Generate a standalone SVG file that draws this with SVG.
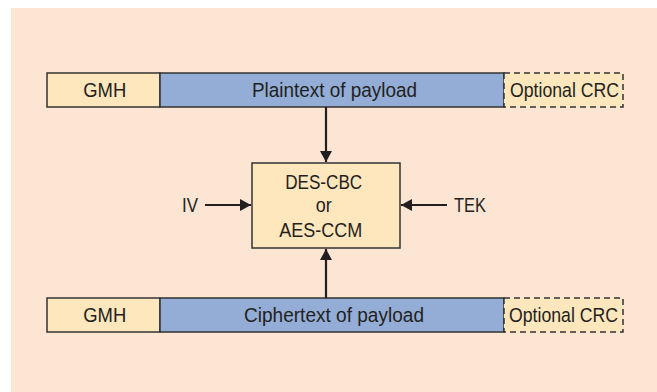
<svg xmlns="http://www.w3.org/2000/svg" width="657" height="392" viewBox="0 0 657 392">
<style>
.t{font-family:"Liberation Sans",Arial,sans-serif;font-size:20.5px;fill:#231f20;text-anchor:middle}
.cream{fill:#fee6bd;stroke:#333;stroke-width:1.5}
.blue{fill:#93add6;stroke:#333;stroke-width:1.5}
.dash{fill:#fee6bd;stroke:#333;stroke-width:1.5;stroke-dasharray:6 4}
.ln{stroke:#231f20;stroke-width:2.2;fill:none}
</style>
<defs>
<marker id="ah" viewBox="0 0 11 12" refX="11" refY="6" markerWidth="11" markerHeight="12" markerUnits="userSpaceOnUse" orient="auto">
<path d="M0,0 L11,6 L0,12 z" fill="#231f20"/>
</marker>
</defs>
<rect x="11" y="8" width="646" height="384" fill="#fce5d3"/>
<g id="top-bar">
<rect class="cream" x="47" y="73" width="113" height="34"/>
<text class="t" x="104.7" y="97" textLength="43" lengthAdjust="spacingAndGlyphs">GMH</text>
<rect class="blue" x="160" y="73" width="344" height="34"/>
<text class="t" x="334.5" y="97" textLength="165" lengthAdjust="spacingAndGlyphs">Plaintext of payload</text>
<rect class="dash" x="504" y="73" width="119" height="34"/>
<text class="t" x="564.5" y="97" textLength="109" lengthAdjust="spacingAndGlyphs">Optional CRC</text>
</g>
<g id="cipher-box">
<rect class="cream" x="252" y="163" width="148" height="85"/>
<text class="t" x="323.7" y="189" textLength="77" lengthAdjust="spacingAndGlyphs">DES-CBC</text>
<text class="t" x="323.7" y="212" textLength="16" lengthAdjust="spacingAndGlyphs">or</text>
<text class="t" x="320.8" y="236.5" textLength="83" lengthAdjust="spacingAndGlyphs">AES-CCM</text>
</g>
<g id="iv"><text class="t" x="190" y="212" textLength="16" lengthAdjust="spacingAndGlyphs">IV</text></g>
<g id="tek"><text class="t" x="470" y="212" textLength="32" lengthAdjust="spacingAndGlyphs">TEK</text></g>
<g id="bottom-bar">
<rect class="cream" x="47" y="298" width="113" height="34"/>
<text class="t" x="104.7" y="322" textLength="43" lengthAdjust="spacingAndGlyphs">GMH</text>
<rect class="blue" x="160" y="298" width="344" height="34"/>
<text class="t" x="334" y="322" textLength="180" lengthAdjust="spacingAndGlyphs">Ciphertext of payload</text>
<rect class="dash" x="504" y="298" width="119" height="34"/>
<text class="t" x="563.5" y="322" textLength="109" lengthAdjust="spacingAndGlyphs">Optional CRC</text>
</g>
<g id="connectors">
<line class="ln" x1="326" y1="107" x2="326" y2="162" marker-end="url(#ah)"/>
<line class="ln" x1="326" y1="298" x2="326" y2="249" marker-end="url(#ah)"/>
<line class="ln" x1="205" y1="205" x2="251" y2="205" marker-end="url(#ah)"/>
<line class="ln" x1="447" y1="205" x2="401" y2="205" marker-end="url(#ah)"/>
</g>
</svg>
